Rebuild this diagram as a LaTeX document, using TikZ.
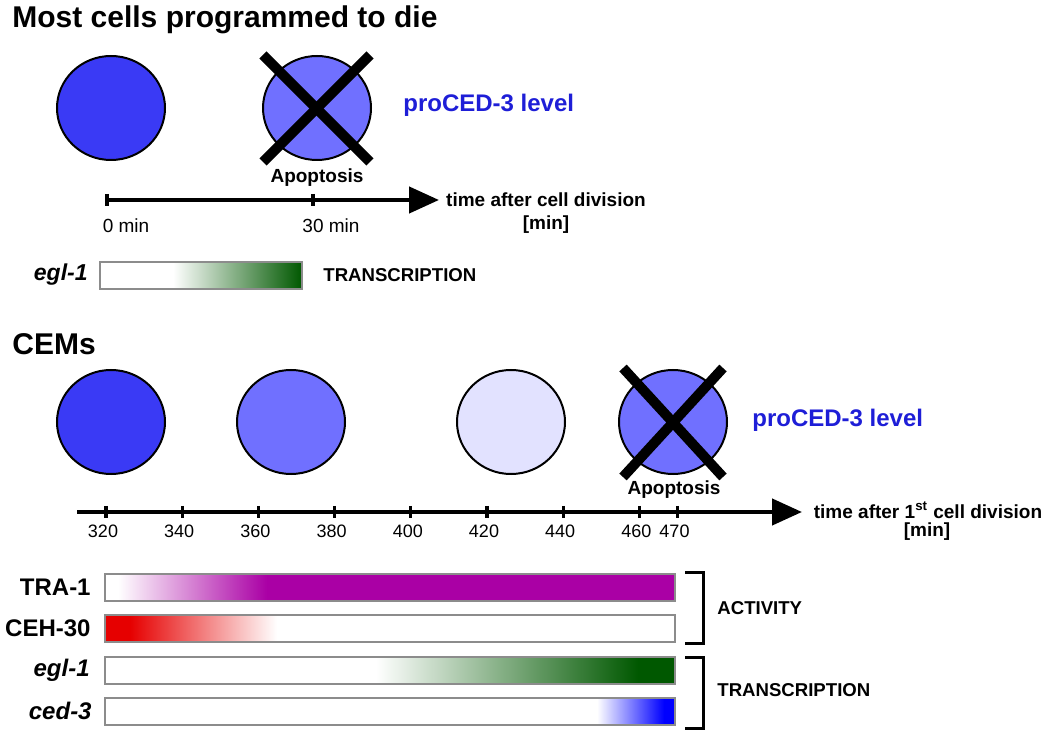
\documentclass[tikz,border=0pt]{standalone}
\usepackage{fontspec}
\setmainfont{Liberation Sans}
\usetikzlibrary{shapes.geometric,arrows.meta}

\definecolor{cellfull}{RGB}{58,58,245}
\definecolor{cellhalf}{RGB}{112,112,255}
\definecolor{celllow}{RGB}{226,226,255}
\definecolor{procedblue}{RGB}{30,30,215}
\definecolor{eglgreen}{RGB}{0,88,0}
\definecolor{tramag}{RGB}{170,0,165}
\definecolor{cehred}{RGB}{230,0,0}
\definecolor{cedblue}{RGB}{0,0,255}
\definecolor{barframe}{RGB}{140,140,140}

\tikzset{
	cell/.style={shape=ellipse,draw=black,line width=1pt,minimum width=54pt,minimum height=52pt,inner sep=0pt},
	cross/.style={line width=5pt,black},
	axis/.style={line width=2.2pt,-{Triangle[length=15pt,width=13pt]}},
	tickmark/.style={line width=1.6pt},
	heading/.style={inner sep=0pt,font=\bfseries\fontsize{15}{18}\selectfont},
	level/.style={inner sep=0pt,anchor=west,text=procedblue,font=\bfseries\fontsize{12}{14}\selectfont},
	ticklabel/.style={inner sep=0pt,font=\fontsize{9}{11}\selectfont},
	timelabel/.style={inner sep=0pt,font=\bfseries\fontsize{9.5}{11}\selectfont},
	death/.style={inner sep=0pt,font=\bfseries\fontsize{9.5}{11}\selectfont},
	genelabel/.style={inner sep=0pt,anchor=east,font=\bfseries\fontsize{12}{14}\selectfont},
	kind/.style={inner sep=0pt,anchor=west,font=\bfseries\fontsize{9.3}{11}\selectfont},
	bar/.style={draw=barframe,line width=0.8pt},
	bracket/.style={line width=1.5pt,black}
}

\begin{document}
\begin{tikzpicture}[x=0.5pt,y=-0.5pt]
	\useasboundingbox (0,0) rectangle (1050,732);

	% most cells
	\node[heading,anchor=west] (title) at (12,20) {Most cells programmed to die};

	\node[cell,fill=cellfull] (early) at (111,108) {};
	\node[cell,fill=cellhalf] (dying) at (317,108) {};
	\draw[cross] (263,55) -- (370,162);
	\draw[cross] (263,162) -- (370,55);
	\node[death] (apopA) at (317,178) {Apoptosis};
	\node[level] (levelA) at (403,105) {proCED-3 level};

	\coordinate (startA) at (107,200);
	\coordinate (endA) at (439,200);
	\draw[axis] (startA) -- (endA);
	\draw[tickmark] (107,194) -- (107,206);
	\draw[tickmark] (313,194) -- (313,206);
	\node[ticklabel,font=\fontsize{9.5}{11}\selectfont] (zero) at (126,226) {0 min};
	\node[ticklabel,font=\fontsize{9.5}{11}\selectfont] (thirty) at (331,226) {30 min};
	\node[timelabel] (timeA) at (546,200) {time after cell division};
	\node[timelabel] (unitA) at (546,225) {[min]};

	\node[genelabel,font=\bfseries\itshape\fontsize{11.5}{14}\selectfont] (eglA) at (88,275) {egl-1};
	\shade[left color=white,right color=eglgreen] (173,262) rectangle (302,289);
	\draw[bar] (100,262) rectangle (302,289);
	\node[kind] (transA) at (323,275) {TRANSCRIPTION};

	% CEMs
	\node[heading,anchor=west] (cems) at (12,344) {CEMs};

	\node[cell,fill=cellfull] (c320) at (111,422) {};
	\node[cell,fill=cellhalf] (c370) at (291,422) {};
	\node[cell,fill=celllow] (c425) at (511,422) {};
	\node[cell,fill=cellhalf] (c470) at (673,422) {};
	\draw[cross] (623,368) -- (723,477);
	\draw[cross] (623,477) -- (723,368);
	\node[death] (apopB) at (674,490) {Apoptosis};
	\node[level] (levelB) at (752,420) {proCED-3 level};

	\coordinate (startB) at (77,512);
	\coordinate (endB) at (802,512);
	\draw[axis] (startB) -- (endB);
	\foreach \t in {320,340,...,460,470} {
		\draw[tickmark] ({106+(\t-320)*3.81},506) -- ++(0,12);
		\node[ticklabel] at ({103+(\t-320)*3.81},531) {\t};
	}
	\node[timelabel] (timeB) at (928,510) {time after 1\textsuperscript{st} cell division};
	\node[timelabel] (unitB) at (927,532) {[min]};

	% bars
	\shade[left color=white,right color=tramag] (118,574) rectangle (267,601);
	\fill[tramag] (267,574) rectangle (675,601);
	\draw[bar] (105,574) rectangle (675,601);

	\fill[cehred] (105,615) rectangle (130,642);
	\shade[left color=cehred,right color=white] (130,615) rectangle (277,642);
	\draw[bar] (105,615) rectangle (675,642);

	\shade[left color=white,right color=eglgreen] (376,657) rectangle (638,684);
	\fill[eglgreen] (638,657) rectangle (675,684);
	\draw[bar] (105,657) rectangle (675,684);

	\shade[left color=white,right color=cedblue] (597,698) rectangle (664,725);
	\fill[cedblue] (664,698) rectangle (675,725);
	\draw[bar] (105,698) rectangle (675,725);

	\node[genelabel] (tra) at (91,587) {TRA-1};
	\node[genelabel] (ceh) at (91,628) {CEH-30};
	\node[genelabel,font=\bfseries\itshape\fontsize{12}{14}\selectfont] (eglB) at (90,670) {egl-1};
	\node[genelabel,font=\bfseries\itshape\fontsize{12}{14}\selectfont] (ced) at (92,711) {ced-3};

	\draw[bracket] (685,573) -- (703,573) -- (703,643) -- (685,643);
	\draw[bracket] (685,657) -- (703,657) -- (703,728) -- (685,728);
	\node[kind] (activity) at (717,608) {ACTIVITY};
	\node[kind] (transB) at (717,690) {TRANSCRIPTION};

\end{tikzpicture}
\end{document}
